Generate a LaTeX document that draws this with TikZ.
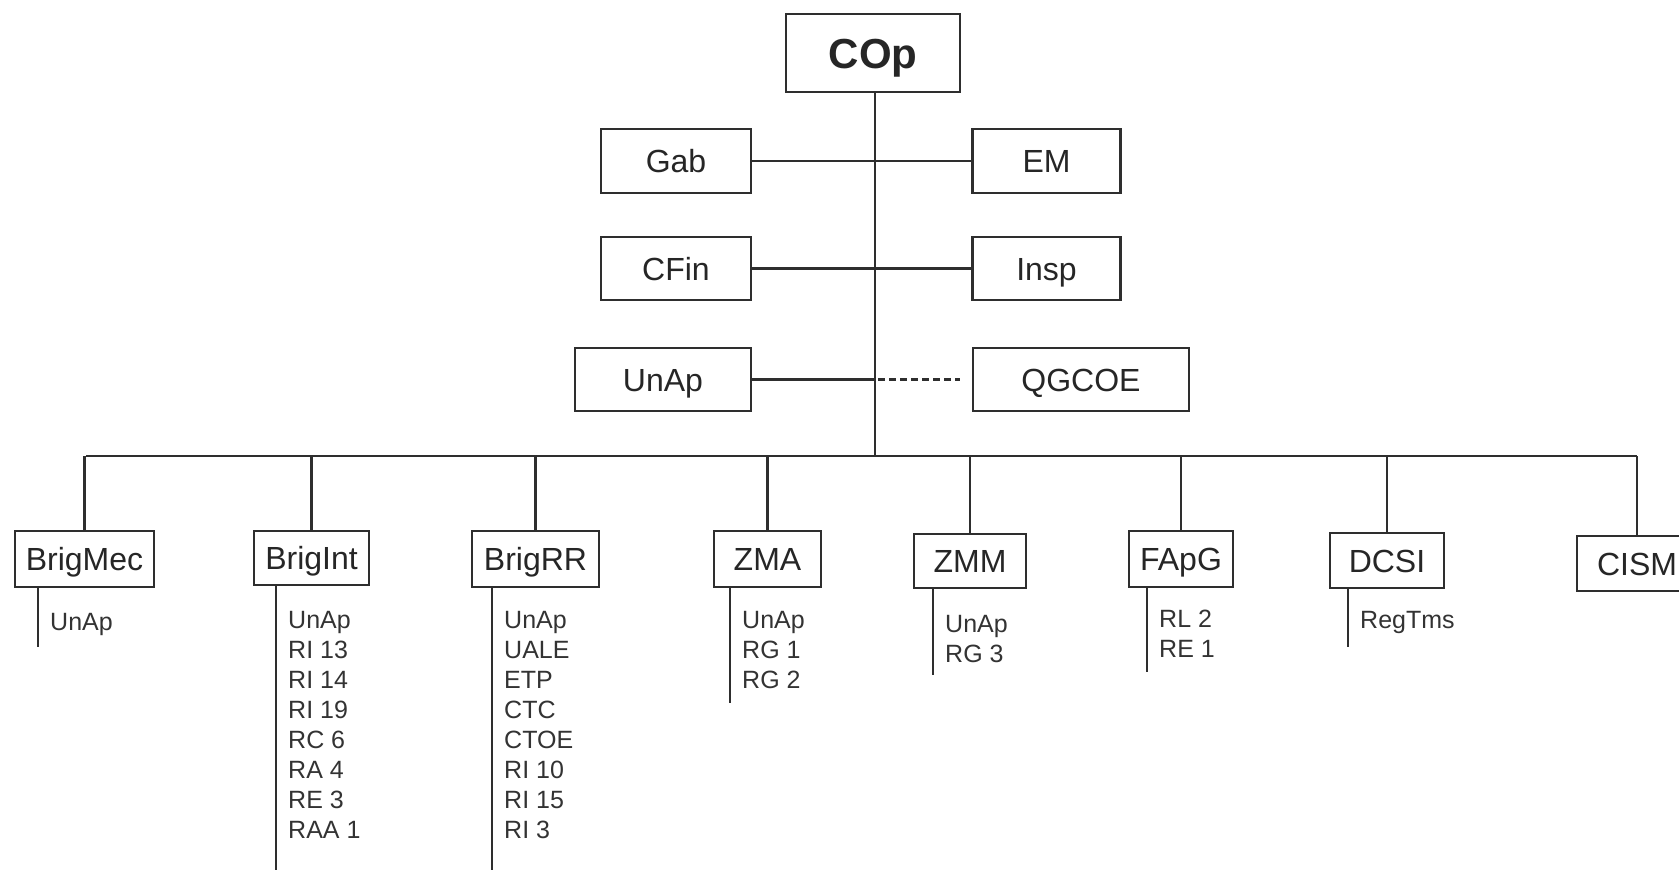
\documentclass[tikz,border=0pt]{standalone}
\usepackage{fontspec}
\setmainfont{Liberation Sans}
\begin{document}
\begin{tikzpicture}[x=1pt,y=-1pt,
  box/.style={draw=black!82, line width=2.6pt, fill=white, inner sep=0pt, font=\fontsize{32}{32}\selectfont, text=black!85, text height=23pt, text depth=0pt},
  topbox/.style={box, font=\bfseries\fontsize{42}{42}\selectfont, text height=30pt},
  link/.style={draw=black!82, line width=2.6pt},
  sub/.style={inner sep=0pt, anchor=base west, font=\fontsize{25}{25}\selectfont, text=black!80}]
\useasboundingbox (0,0) rectangle (1679,870);
\clip (0,0) rectangle (1679,870);

% top part
\node[topbox, minimum width=174pt, minimum height=78pt] (COp) at (873,53) {COp};
\node[box, minimum width=150pt, minimum height=64pt] (Gab) at (676,161) {Gab};
\node[box, minimum width=148pt, minimum height=64pt] (EM) at (1046.5,161) {EM};
\node[box, minimum width=150pt, minimum height=63pt] (CFin) at (676,268.5) {CFin};
\node[box, minimum width=148pt, minimum height=63pt] (Insp) at (1046.5,268.5) {Insp};
\node[box, minimum width=176pt, minimum height=63pt] (UnAp) at (663,379.5) {UnAp};
\node[box, minimum width=216pt, minimum height=63pt] (QGCOE) at (1081,379.5) {QGCOE};

\coordinate (bus) at (875,456);
\coordinate (busL) at (86,456);
\coordinate (busR) at (1637,456);
\coordinate (mid) at (875,379.5);
\coordinate (dashend) at (960,379.5);

\draw[link] (COp.south -| bus) -- (bus);
\draw[link] (Gab) -- (EM);
\draw[link] (CFin) -- (Insp);
\draw[link] (UnAp) -- (mid);
\draw[link, dash pattern=on 7pt off 4pt] ([xshift=3pt]mid) -- (dashend);
\draw[link] (busL) -- (busR);

% bottom boxes
\node[box, minimum width=139pt, minimum height=56pt] (BrigMec) at (84.5,559) {BrigMec};
\node[box, minimum width=115pt, minimum height=54pt] (BrigInt) at (311.5,558) {BrigInt};
\node[box, minimum width=127pt, minimum height=56pt] (BrigRR) at (535.5,559) {BrigRR};
\node[box, minimum width=107pt, minimum height=56pt] (ZMA) at (767.5,559) {ZMA};
\node[box, minimum width=112pt, minimum height=54pt] (ZMM) at (970,561) {ZMM};
\node[box, minimum width=104pt, minimum height=56pt] (FApG) at (1181,559) {FApG};
\node[box, minimum width=114pt, minimum height=55pt] (DCSI) at (1387,560.5) {DCSI};
\node[box, minimum width=120pt, minimum height=55pt] (CISM) at (1637,563.5) {CISM};

\foreach \n in {BrigMec,BrigInt,BrigRR,ZMA,ZMM,FApG,DCSI,CISM}
  \draw[link] (\n.north) -- (\n.north |- bus);

% sub-lists
\newcommand{\sublist}[5]{%
  \coordinate (#1-end) at (#2,#5);
  \draw[link] (#1-end |- #1.south) -- (#1-end);
  \foreach \t [count=\i] in {#4}
    \node[sub] (#1-\i) at ({#2+12},{#3+30*(\i-1)}) {\t};
}
\sublist{BrigMec}{38}{630}{UnAp}{647}
\sublist{BrigInt}{276}{628}{UnAp,RI 13,RI 14,RI 19,RC 6,RA 4,RE 3,RAA 1}{875}
\sublist{BrigRR}{492}{628}{UnAp,UALE,ETP,CTC,CTOE,RI 10,RI 15,RI 3}{875}
\sublist{ZMA}{730}{628}{UnAp,RG 1,RG 2}{703}
\sublist{ZMM}{933}{632}{UnAp,RG 3}{675}
\sublist{FApG}{1147}{627}{RL 2,RE 1}{672}
\sublist{DCSI}{1348}{628}{RegTms}{647}
\end{tikzpicture}
\end{document}
